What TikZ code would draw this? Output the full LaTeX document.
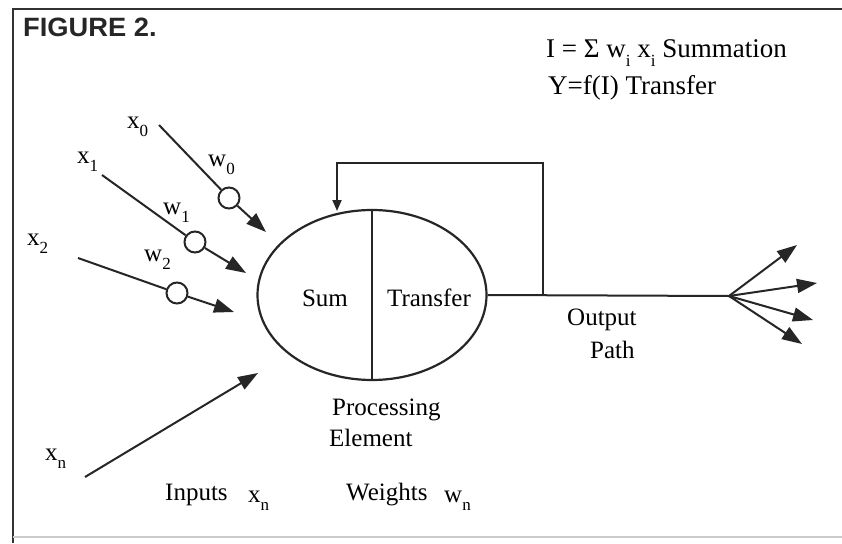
\documentclass[tikz,border=0pt]{standalone}
\usepackage{fontspec}
\setmainfont{Liberation Serif}
\setsansfont{Liberation Sans}
\usetikzlibrary{arrows.meta,shapes.geometric}
\newcommand\sbs[1]{\raisebox{-0.35em}{\fontsize{17}{17}\selectfont #1}}
\tikzset{
  lbl/.style={inner sep=0pt, font=\fontsize{25}{28}\selectfont},
  flbl/.style={inner sep=0pt, font=\fontsize{27}{30}\selectfont},
  wire/.style={line width=2pt, draw=black!85},
  arr/.style={wire, -{Triangle[length=20pt,width=14pt]}},
  wcirc/.style={circle, draw=black!85, line width=2pt, fill=white, minimum size=21pt, inner sep=0pt},
}
\begin{document}
\begin{tikzpicture}[x=1pt,y=-1pt]
\useasboundingbox (0,0) rectangle (842,543);
\fill[white] (0,0) rectangle (842,543);
% frame
\coordinate (fbl) at (13,543);
\coordinate (ftl) at (13,9);
\coordinate (ftr) at (842,9);
\draw[line width=2.5pt, black!80] (fbl) -- (ftl) -- (ftr);
\coordinate (bl) at (13,537);
\coordinate (br) at (842,537);
\draw[line width=1.5pt, black!20] (bl) -- (br);
% title
\node[anchor=base west, inner sep=0pt, font=\fontsize{26.5}{29}\selectfont\sffamily\bfseries, xscale=1.03, black!85] (title) at (23,37) {FIGURE 2.};
% formulas
\node[flbl, anchor=base west] (f1) at (546,57) {I = Σ w\sbs{i} x\sbs{i} Summation};
\node[flbl, anchor=base west] (f2) at (548,94) {Y=f(I) Transfer};
% processing element
\node[ellipse, draw=black!85, line width=2.2pt, minimum width=229pt, minimum height=170pt, inner sep=0pt] (pe) at (372,295) {};
\draw[wire] (pe.north) -- (pe.south);
\node[lbl] (sum) at (325,298) {Sum};
\node[lbl] (tr) at (429,298) {Transfer};
\node[lbl, anchor=west] (proc) at (332,410) {Processing};
\node[lbl, anchor=west] (elem) at (329,438) {Element};
% output and feedback
\coordinate (fan) at (729,296);
\coordinate (fb1) at (543,296);
\coordinate (fb2) at (543,163);
\coordinate (fb3) at (337,163);
\coordinate (fb4) at (337,211);
\draw[wire] (pe.east) -- (fan);
\draw[wire, -{Triangle[length=11pt,width=9pt]}] (fb1) -- (fb2) -- (fb3) -- (fb4);
\coordinate (o1) at (797,245);
\coordinate (o2) at (817,283);
\coordinate (o3) at (813,320);
\coordinate (o4) at (802,344);
\draw[arr] (fan) -- (o1);
\draw[arr] (fan) -- (o2);
\draw[arr] (fan) -- (o3);
\draw[arr] (fan) -- (o4);
\node[lbl, anchor=west] (outl) at (567,320) {Output};
\node[lbl, anchor=west] (pathl) at (590,350) {Path};
% inputs
\coordinate (s0) at (159,125);
\coordinate (t0) at (266,232);
\node[wcirc] (c0) at (229,198) {};
\coordinate (s1) at (102,175);
\coordinate (t1) at (246,273);
\node[wcirc] (c1) at (195,242) {};
\coordinate (s2) at (78,258);
\coordinate (t2) at (234,312);
\node[wcirc] (c2) at (177,293) {};
\draw[wire] (s0) -- (c0);
\draw[arr] (c0) -- (t0);
\draw[wire] (s1) -- (c1);
\draw[arr] (c1) -- (t1);
\draw[wire] (s2) -- (c2);
\draw[arr] (c2) -- (t2);
\coordinate (sn) at (85,477);
\coordinate (tn) at (258,373);
\draw[arr] (sn) -- (tn);
% input labels
\node[lbl, anchor=base west] (x0) at (127,128) {x\sbs{0}};
\node[lbl, anchor=base west] (x1) at (77,163) {x\sbs{1}};
\node[lbl, anchor=base west] (x2) at (27,245) {x\sbs{2}};
\node[lbl, anchor=base west] (w0) at (208,166) {w\sbs{0}};
\node[lbl, anchor=base west] (w1) at (163,214) {w\sbs{1}};
\node[lbl, anchor=base west] (w2) at (144,261) {w\sbs{2}};
\node[lbl, anchor=base west] (xn) at (45,460) {x\sbs{n}};
\node[lbl, anchor=base west] (inp) at (165,500) {Inputs};
\node[lbl, anchor=base west] (xn2) at (248,502) {x\sbs{n}};
\node[lbl, anchor=base west] (wts) at (346,500) {Weights};
\node[lbl, anchor=base west] (wn) at (444,502) {w\sbs{n}};
\end{tikzpicture}
\end{document}
